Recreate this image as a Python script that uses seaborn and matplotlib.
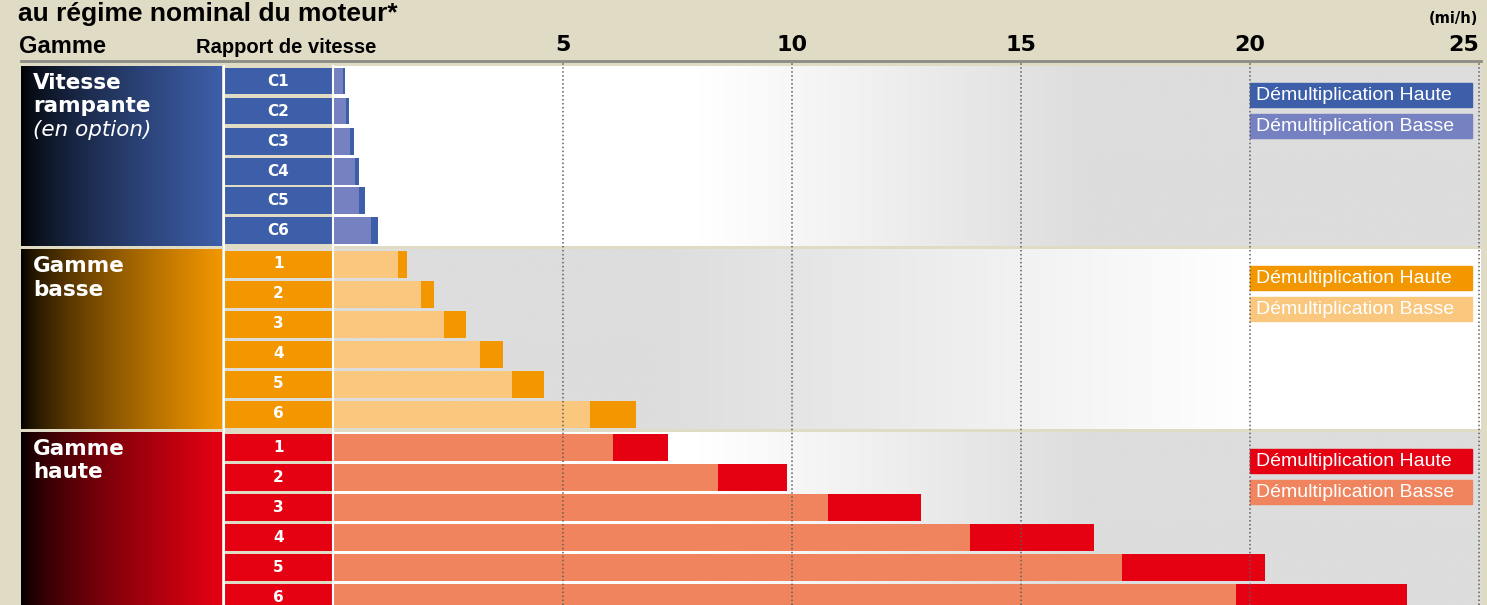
import numpy as np
import matplotlib
matplotlib.use("Agg")
import matplotlib.pyplot as plt
from matplotlib.colors import to_rgb
from matplotlib.patches import Rectangle
from matplotlib.lines import Line2D
import seaborn as sns

# vitesses (mi/h) au régime nominal, par gamme
creep_gears = ["C1", "C2", "C3", "C4", "C5", "C6"]
creep_basse = [0.20, 0.26, 0.35, 0.46, 0.55, 0.81]
creep_haute = [0.24, 0.33, 0.44, 0.55, 0.68, 0.96]

low_gears = ["1", "2", "3", "4", "5", "6"]
low_basse = [1.40, 1.90, 2.40, 3.19, 3.89, 5.59]
low_haute = [1.59, 2.18, 2.88, 3.69, 4.59, 6.59]

high_gears = ["1", "2", "3", "4", "5", "6"]
high_basse = [6.09, 8.38, 10.79, 13.89, 17.21, 19.70]
high_haute = [7.29, 9.90, 12.81, 16.59, 20.32, 23.42]

ticks = [5, 10, 15, 20, 25]
tick_labels = ["5", "10", "15", "20", "25"]
legend_labels = ["Démultiplication Haute", "Démultiplication Basse"]

creep_title = [("Vitesse", "bold", "normal"), ("rampante", "bold", "normal"),
               ("(en option)", "normal", "italic")]
low_title = [("Gamme", "bold", "normal"), ("basse", "bold", "normal")]
high_title = [("Gamme", "bold", "normal"), ("haute", "bold", "normal")]

W, H = 1487, 605
X0, PX = 334, 45.8
XMAX = (1481 - X0) / PX
BG = "#dfdbc4"
GRAY = np.array(to_rgb("#dcdddc"))
WHITE = np.ones(3)


def box(x0, y0, x1, y1):
    return [x0 / W, 1 - y1 / H, (x1 - x0) / W, (y1 - y0) / H]


def ftext(x, y, s, **kw):
    fig.text(x / W, 1 - y / H, s, **kw)


panels = [
    dict(top=66, gears=creep_gears, basse=creep_basse, haute=creep_haute,
         dark="#3d5fa9", light="#7581c0", gap=BG, fade="in", title=creep_title),
    dict(top=249, gears=low_gears, basse=low_basse, haute=low_haute,
         dark="#f39700", light="#f9c77e", gap="#dcdcd8", fade="out", title=low_title),
    dict(top=432, gears=high_gears, basse=high_basse, haute=high_haute,
         dark="#e50012", light="#ef845e", gap=BG, fade="in", title=high_title),
]

fig = plt.figure(figsize=(W / 100, H / 100), dpi=100, facecolor=BG)
sans = ["DejaVu Sans"]
lib = ["Liberation Sans", "DejaVu Sans"]

for p in panels:
    top, bot = p["top"], p["top"] + 180
    n = len(p["gears"])

    # colonne titre (dégradé noir -> couleur)
    lax = fig.add_axes(box(21, top, 222, bot))
    t = np.linspace(0, 1, 256) ** 0.7
    c = np.array(to_rgb(p["dark"]))
    grad = t[:, None] * c
    lax.imshow(grad[None, :, :], extent=[0, 1, 0, 1], aspect="auto")
    lax.set_axis_off()
    for i, (s, wt, st) in enumerate(p["title"]):
        ftext(33, top + 23 + 23.5 * i, s, color="white", fontsize=15.5,
              fontweight=wt, fontstyle=st, family=sans, va="baseline")

    # colonne rapport
    gax = fig.add_axes(box(225, top, 332, bot))
    sns.barplot(x=[1] * n, y=p["gears"], orient="h", color=p["dark"],
                saturation=1, width=0.9, errorbar=None, ax=gax)
    gax.bar_label(gax.containers[0], labels=p["gears"], label_type="center",
                  color="white", fontsize=11, fontweight="bold", family=sans)
    gax.set_xlim(0, 1)
    gax.set_axis_off()
    gax.add_patch(Rectangle((0, 0), 1, 1, transform=gax.transAxes,
                            color=p["gap"], zorder=0))

    # barres
    ax = fig.add_axes(box(X0, top, 1481, bot))
    sns.barplot(x=p["haute"], y=p["gears"], orient="h", color=p["dark"],
                saturation=1, width=0.9, errorbar=None, ax=ax, zorder=2)
    sns.barplot(x=p["basse"], y=p["gears"], orient="h", color=p["light"],
                saturation=1, width=0.9, errorbar=None, ax=ax, zorder=3)
    xs = np.linspace(0, XMAX, 400)
    if p["fade"] == "in":
        f = np.clip((xs - 8.0) / 8.5, 0, 1)
    else:
        f = 1 - np.clip((xs - 7.0) / 13.0, 0, 1)
    rgb = (1 - f)[:, None] * WHITE + f[:, None] * GRAY
    ax.imshow(rgb[None, :, :], extent=[0, XMAX, n - 0.5, -0.5],
              aspect="auto", zorder=0)
    ax.set_xlim(0, XMAX)
    ax.set_ylim(n - 0.5, -0.5)
    ax.set_axis_off()

    # légende
    for k, (lab, col) in enumerate(zip(legend_labels, [p["dark"], p["light"]])):
        y0 = -0.5 + (17 + 30.5 * k) / 30
        ax.add_patch(Rectangle((20, y0), (1472 - 1250) / PX, 0.8,
                               color=col, zorder=5))
        ax.text(20 + 6 / PX, y0 + 0.42, lab, color="white", fontsize=14,
                family=lib, va="center", ha="left", zorder=6)

# grille + graduations
gridax = fig.add_axes(box(X0, 62, 1481, 605))
gridax.set_zorder(10)
gridax.patch.set_visible(False)
gridax.set_xlim(0, XMAX)
gridax.set_ylim(0, 1)
gridax.set_xticks(ticks)
gridax.set_xticklabels(tick_labels, fontsize=16, fontweight="bold", family=sans)
gridax.set_yticks([])
gridax.xaxis.tick_top()
gridax.tick_params(axis="x", length=0, pad=5)
gridax.grid(axis="x", color="#5e5e5e", lw=1.1, ls=(0, (1, 1.6)))
for sp in gridax.spines.values():
    sp.set_visible(False)
gridax.get_xticklabels()[-1].set_ha("right")

fig.add_artist(Line2D([21 / W, 1481 / W], [1 - 61 / H] * 2, color="#8c8c86", lw=2))
for xv in (223.5, 333):
    fig.add_artist(Line2D([xv / W] * 2, [1 - 66 / H, 0], color="white", lw=1.5))

ftext(18, 21, "au régime nominal du moteur*", fontsize=19, fontweight="bold",
      family=lib, va="baseline")
ftext(19, 53, "Gamme", fontsize=17, fontweight="bold", family=lib, va="baseline")
ftext(196, 53, "Rapport de vitesse", fontsize=14.5, fontweight="bold",
      family=lib, va="baseline")
ftext(1478, 23, "(mi/h)", fontsize=10.5, fontweight="bold", family=sans,
      va="baseline", ha="right")

fig.savefig("out.png", dpi=100, facecolor=BG)
